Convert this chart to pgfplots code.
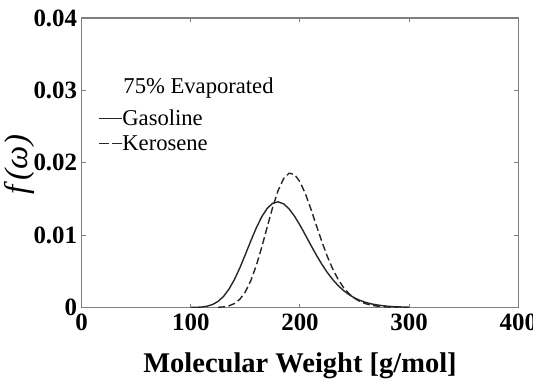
\documentclass[border=0pt]{standalone}
\usepackage{fontspec}
\setmainfont{Liberation Serif}
\usepackage{pgfplots}
\pgfplotsset{compat=1.18}

\definecolor{axisgray}{HTML}{808080}
\definecolor{curve}{HTML}{262626}

\begin{document}
\begin{tikzpicture}
\useasboundingbox (-81.7bp,-72.5bp) rectangle (451.3bp,307.5bp);
\begin{axis}[
  scale only axis,
  width=436.6bp, height=289.5bp,
  xmin=0, xmax=400, ymin=0, ymax=0.04,
  xtick={0,100,200,300,400},
  ytick={0,0.01,0.02,0.03,0.04},
  yticklabels={0,0.01,0.02,0.03,0.04},
  scaled y ticks=false,
  tick align=inside, tick pos=both,
  major tick length=4bp,
  every tick/.style={axisgray, line width=1bp},
  axis line style={axisgray, line width=1.4bp},
  /pgf/number format/assume math mode=true,
  ticklabel style={font=\fontsize{25}{25}\selectfont\bfseries},
  xticklabel style={yshift=-3bp},
  yticklabel style={inner xsep=0pt, xshift=-4.4bp},
  xlabel={Molecular Weight [g/mol]},
  xlabel style={font=\fontsize{28.6}{28.6}\selectfont\bfseries,
    at={(axis description cs:0.5,0)}, anchor=base, yshift=-64.5bp},
  ylabel={f\,(ω)},
  ylabel style={font=\fontsize{33}{33}\selectfont\itshape,
    at={(axis description cs:0,0.5)}, anchor=center, yshift=62.7bp, xshift=-2bp},
  legend cell align=left,
  legend style={draw=none, fill=none, inner sep=0pt, column sep=0pt, row sep=0pt,
    at={(axis cs:15.2,0.02784)}, anchor=north west,
    nodes={inner sep=0pt, text height=19bp, text depth=6bp,
      font=\fontsize{22.7}{22.7}\selectfont}},
  legend image code/.code={\draw[#1] (0bp,0bp) -- (22.7bp,0bp);},
]
% gasoline distribution
\addplot[curve, line width=1.4bp, forget plot] table {
100 0.00001
105 0.00002
110 0.00007
115 0.00018
120 0.00042
125 0.00085
130 0.00154
135 0.00255
140 0.00389
145 0.00551
150 0.00734
155 0.00923
160 0.01102
165 0.01255
170 0.01371
175 0.01440
180 0.01460
185 0.01432
190 0.01363
195 0.01261
200 0.01137
205 0.01000
210 0.00860
215 0.00724
220 0.00598
225 0.00484
230 0.00386
235 0.00302
240 0.00233
245 0.00177
250 0.00132
255 0.00098
260 0.00071
265 0.00051
270 0.00037
275 0.00026
280 0.00018
285 0.00012
290 0.00009
295 0.00006
300 0.00004
};
% kerosene distribution
\addplot[curve, line width=1.4bp, dash pattern=on 7bp off 3.5bp, forget plot] table {
125 0.00003
130 0.00008
135 0.00023
140 0.00055
145 0.00116
150 0.00218
155 0.00373
160 0.00582
165 0.00836
170 0.01115
175 0.01386
180 0.01618
185 0.01781
190 0.01856
195 0.01838
200 0.01736
205 0.01569
210 0.01360
215 0.01134
220 0.00911
225 0.00707
230 0.00532
235 0.00387
240 0.00274
245 0.00189
250 0.00127
255 0.00083
260 0.00053
265 0.00033
270 0.00020
275 0.00012
280 0.00007
285 0.00004
290 0.00002
};
\addlegendimage{curve, line width=1.2bp}
\addlegendentry{Gasoline}
\addlegendimage{curve, line width=1.2bp, dash pattern=on 9.6bp off 3.5bp}
\addlegendentry{Kerosene}
\node[anchor=base west, inner sep=0pt, font=\fontsize{22.7}{22.7}\selectfont]
  at (axis cs:38.1,0.0296) {75\% Evaporated};
\end{axis}
\end{tikzpicture}
\end{document}
